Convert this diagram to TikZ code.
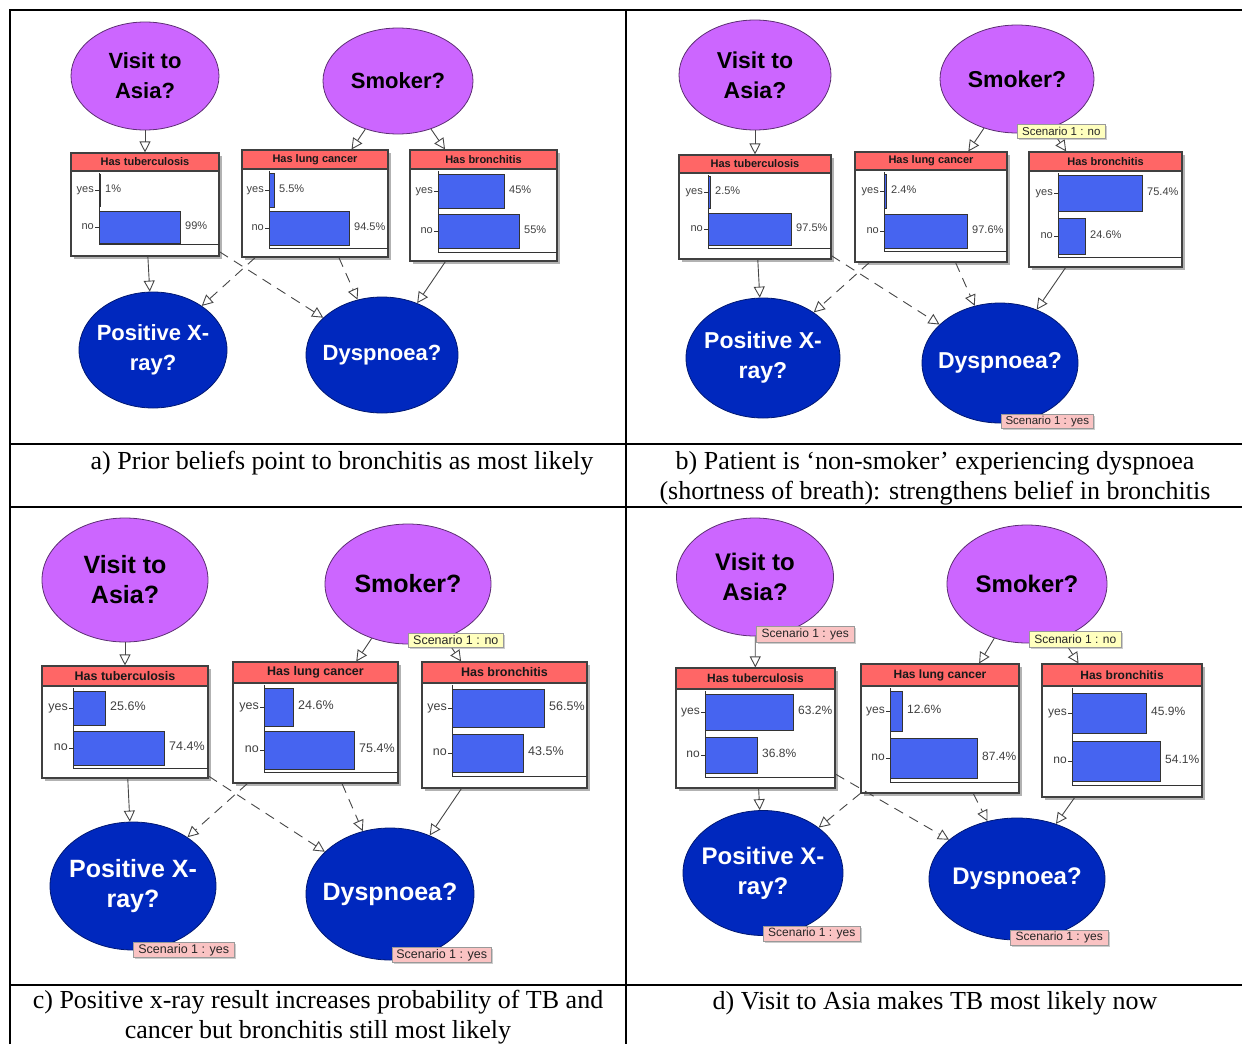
\documentclass[tikz,border=0pt]{standalone}
\usepackage{fontspec}
\setmainfont{Liberation Serif}
\setsansfont{Liberation Sans}
\usetikzlibrary{shapes.geometric,arrows.meta,shadows}
\definecolor{askpurple}{RGB}{204,102,255}
\definecolor{askblue}{RGB}{0,40,190}
\definecolor{headred}{RGB}{255,102,102}
\definecolor{barblue}{RGB}{70,100,240}
\definecolor{linegray}{RGB}{70,70,70}
\definecolor{evyellow}{RGB}{255,255,190}
\definecolor{evpink}{RGB}{250,195,195}

\begin{document}
\begin{tikzpicture}[
    x=1pt, y=-1pt,
    every node/.style={font=\sffamily},
    asknode/.style={ellipse, fill=askpurple, draw=askpurple!45!black, line width=0.8pt, inner xsep=-25pt, inner ysep=0pt, align=center, font=\sffamily\bfseries\fontsize{#1}{30}\selectfont},
    finding/.style={asknode=#1, fill=askblue, draw=askblue!60!black, text=white},
    beliefbox/.style={rectangle, draw=black!75, line width=1.1pt, fill=white, inner sep=0pt, drop shadow={shadow xshift=2.5pt, shadow yshift=-2.5pt, fill=black!60, opacity=0.5}},
    headbar/.style={draw=black!75, line width=1.1pt, fill=headred},
    probbar/.style={draw=black!80, line width=0.9pt, fill=barblue},
    axisline/.style={draw=black!80, line width=0.9pt},
    evidence/.style={rectangle, draw=black!40, line width=0.6pt, inner sep=0pt, anchor=north west, text=black!85, font=\sffamily\fontsize{#1}{#1}\selectfont, drop shadow={shadow xshift=1.5pt, shadow yshift=-1.5pt, fill=black!50, opacity=0.4}},
    evno/.style={evidence=#1, fill=evyellow},
    evyes/.style={evidence=#1, fill=evpink},
    influence/.style={draw=linegray, line width=0.9pt, -{Triangle[open, length=11pt, width=11pt]}},
    crosslink/.style={influence, dash pattern=on 10pt off 7pt},
    caption/.style={font=\rmfamily\fontsize{26}{30}\selectfont, align=center},
    ruling/.style={line width=2pt}
]
\useasboundingbox (0,0) rectangle (1242,1044);

% Table rulings
\draw[ruling] (10,1044) -- (10,10) -- (1242,10);
\draw[ruling] (626,10) -- (626,1044);
\foreach \yy in {444,507,985}
    \draw[ruling] (10,\yy) -- (1242,\yy);

% Panel (a): prior beliefs
\node[asknode=22, minimum width=148, minimum height=108] (asiaA) at (145,76) {Visit to\\Asia?};
\node[asknode=22, minimum width=150, minimum height=106] (smokA) at (398,81) {Smoker?};
\node[finding=22, minimum width=148, minimum height=116] (xrayA) at (153,350) {Positive X-\\ray?};
\node[finding=22, minimum width=152, minimum height=116] (dyspA) at (382,355) {Dyspnoea?};

% Panel (b): non-smoker with dyspnoea
\node[asknode=23, minimum width=152, minimum height=110] (asiaB) at (755,75) {Visit to\\Asia?};
\node[asknode=23, minimum width=154, minimum height=108] (smokB) at (1017,79) {Smoker?};
\node[finding=23, minimum width=154, minimum height=120] (xrayB) at (763,358) {Positive X-\\ray?};
\node[finding=23, minimum width=156, minimum height=120] (dyspB) at (1000,363) {Dyspnoea?};

% Panel (c): positive x-ray
\node[asknode=25, minimum width=166, minimum height=124] (asiaC) at (125,580) {Visit to\\Asia?};
\node[asknode=25, minimum width=166, minimum height=120] (smokC) at (408,584) {Smoker?};
\node[finding=25, minimum width=166, minimum height=128] (xrayC) at (133,886) {Positive X-\\ray?};
\node[finding=25, minimum width=168, minimum height=132] (dyspC) at (390,894) {Dyspnoea?};

% Panel (d): visit to Asia
\node[asknode=24, minimum width=157, minimum height=118] (asiaD) at (755,577) {Visit to\\Asia?};
\node[asknode=24, minimum width=160, minimum height=118] (smokD) at (1027,584) {Smoker?};
\node[finding=24, minimum width=160, minimum height=125] (xrayD) at (763,873) {Positive X-\\ray?};
\node[finding=24, minimum width=176, minimum height=122] (dyspD) at (1017,879) {Dyspnoea?};

% Belief bars: panel/name/title/left/top/right/bottom/header/axis/yes-row/no-row/half-bar/axis-bottom/yes-end/no-end/yes/no/size
\foreach \p/\nm/\ttl/\bl/\bt/\br/\bb/\hb/\ax/\yy/\ny/\hh/\zb/\ey/\en/\py/\pn/\fs in {
    A/tub/{Has tuberculosis}/71/153/219/256/171/99/190/227/16/244/100/180/1\%/99\%/11,
    A/lung/{Has lung cancer}/242/150/388/257/169/269/190/228/17/248/274/349/5.5\%/94.5\%/11,
    A/bron/{Has bronchitis}/410/150/557/261/169/438/191/231/17/252/504/519/45\%/55\%/11,
    B/tub/{Has tuberculosis}/679/155/831/259/173/708/192/229/16/248/710/791/2.5\%/97.5\%/11,
    B/lung/{Has lung cancer}/855/152/1007/262/170/884/191/231/17/251/886/967/2.4\%/97.6\%/11,
    B/bron/{Has bronchitis}/1029/152/1182/267/171/1058/193/236/18/257/1142/1085/75.4\%/24.6\%/11,
    C/tub/{Has tuberculosis}/42/666/208/778/686/73/708/748/17/768/105/164/25.6\%/74.4\%/12.5,
    C/lung/{Has lung cancer}/233/662/398/783/683/264/707/750/19/772/293/354/24.6\%/75.4\%/12.5,
    C/bron/{Has bronchitis}/422/662/587/788/683/452/708/753/19/776/544/523/56.5\%/43.5\%/12.5,
    D/tub/{Has tuberculosis}/676/668/835/788/689/705/712/755/18/777/793/757/63.2\%/36.8\%/12,
    D/lung/{Has lung cancer}/861/664/1019/793/686/890/711/758/20/782/902/977/12.6\%/87.4\%/12,
    D/bron/{Has bronchitis}/1042/664/1202/797/686/1072/713/761/20/785/1146/1160/45.9\%/54.1\%/12} {
    \node[beliefbox, minimum width=\br-\bl, minimum height=\bb-\bt] (\nm\p) at ({(\bl+\br)/2},{(\bt+\bb)/2}) {};
    \draw[headbar] (\bl,\bt) rectangle (\br,\hb);
    \node[text=black!90, font=\sffamily\bfseries\fontsize{\fs}{\fs}\selectfont] (\nm\p-title) at ({(\bl+\br)/2},{(\bt+\hb)/2}) {\ttl};
    \draw[axisline] (\ax,\hb+2) -- (\ax,\zb) -- (\br,\zb);
    \draw[axisline] (\ax-4,\yy) -- (\ax,\yy) (\ax-4,\ny) -- (\ax,\ny);
    \draw[probbar] (\ax,\yy-\hh) rectangle (\ey,\yy+\hh);
    \draw[probbar] (\ax,\ny-\hh) rectangle (\en,\ny+\hh);
    \node[anchor=mid east, inner sep=1pt, text=black!75, font=\sffamily\fontsize{\fs}{\fs}\selectfont] (\nm\p-yes) at (\ax-4,\yy) {yes};
    \node[anchor=mid east, inner sep=1pt, text=black!75, font=\sffamily\fontsize{\fs}{\fs}\selectfont] (\nm\p-no) at (\ax-4,\ny) {no};
    \node[anchor=mid west, inner sep=1pt, text=black!75, font=\sffamily\fontsize{\fs}{\fs}\selectfont] (\nm\p-pyes) at (\ey+4,\yy) {\py};
    \node[anchor=mid west, inner sep=1pt, text=black!75, font=\sffamily\fontsize{\fs}{\fs}\selectfont] (\nm\p-pno) at (\en+4,\ny) {\pn};
}

% Arcs of the network, same in every panel
\foreach \p in {A,B,C,D} {
    \draw[influence] (asia\p) -- (tub\p);
    \draw[influence] (smok\p) -- (lung\p);
    \draw[influence] (smok\p) -- (bron\p);
    \draw[influence] (tub\p) -- (xray\p);
    \draw[influence] (bron\p) -- (dysp\p);
    \draw[crosslink] (lung\p) -- (xray\p);
    \draw[crosslink] (tub\p) -- (dysp\p);
    \draw[crosslink] (lung\p) -- (dysp\p);
}

% Scenario evidence tags
\node[evno=11.5, minimum width=88, minimum height=14] (smokB-ev) at (1017,124) {Scenario 1 : no};
\node[evyes=11.5, minimum width=92, minimum height=14] (dyspB-ev) at (1001,414) {Scenario 1 : yes};
\node[evno=12.5, minimum width=95, minimum height=14] (smokC-ev) at (408,633) {Scenario 1 : no};
\node[evyes=12.5, minimum width=101, minimum height=15] (xrayC-ev) at (133,942) {Scenario 1 : yes};
\node[evyes=12.5, minimum width=99, minimum height=15] (dyspC-ev) at (392,947) {Scenario 1 : yes};
\node[evyes=12, minimum width=98, minimum height=16] (asiaD-ev) at (756,626) {Scenario 1 : yes};
\node[evno=12, minimum width=92, minimum height=16] (smokD-ev) at (1029,631) {Scenario 1 : no};
\node[evyes=12, minimum width=97, minimum height=15] (xrayD-ev) at (763,926) {Scenario 1 : yes};
\node[evyes=12, minimum width=98, minimum height=15] (dyspD-ev) at (1010,930) {Scenario 1 : yes};

% Captions
\node[caption] (capA) at (342,463) {a) Prior beliefs point to bronchitis as most likely};
\node[caption] (capB) at (935,478) {b) Patient is ‘non-smoker’ experiencing dyspnoea\\(shortness of breath): strengthens belief in bronchitis};
\node[caption] (capC) at (318,1017) {c) Positive x-ray result increases probability of TB and\\cancer but bronchitis still most likely};
\node[caption] (capD) at (935,1003) {d) Visit to Asia makes TB most likely now};

\end{tikzpicture}
\end{document}
